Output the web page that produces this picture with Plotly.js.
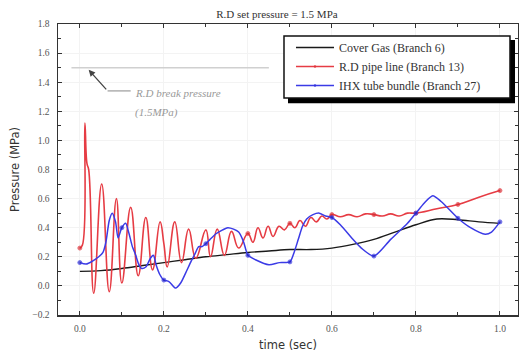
<!DOCTYPE html>
<html><head><meta charset="utf-8">
<script src="https://cdn.plot.ly/plotly-3.0.1.min.js"></script>
<style>html,body{margin:0;padding:0;background:#fff}#chart{width:519px;height:360px}</style>
</head><body><div id="chart"></div>
<script>
// Cover Gas (Branch 6)
const blackT = [0,0.05,0.1,0.15,0.2,0.25,0.3,0.35,0.4,0.45,0.5,0.55,0.6,0.65,0.7,0.75,0.8,0.85,0.9,0.95,1.0];
const blackV = [0.10,0.105,0.12,0.14,0.16,0.18,0.20,0.215,0.23,0.24,0.25,0.25,0.26,0.285,0.32,0.37,0.42,0.46,0.455,0.44,0.43];
// R.D pipe line (Branch 13)
const redT = [0,0.006,0.012,0.017,0.021,0.033,0.052,0.070,0.087,0.1,0.121,0.139,0.157,0.173,0.191,0.2,0.208,0.226,0.242,0.259,0.276,0.3,0.311,0.327,0.344,0.361,0.378,0.4,0.412,0.424,0.436,0.448,0.46,0.474,0.487,0.5,0.512,0.524,0.537,0.55,0.563,0.576,0.588,0.6,0.62,0.64,0.66,0.68,0.7,0.72,0.74,0.76,0.78,0.8,0.85,0.9,0.95,1.0];
const redV = [0.26,0.28,1.12,0.84,0.80,-0.05,0.70,-0.04,0.60,0.02,0.54,0.07,0.47,0.11,0.44,0.29,0.13,0.44,0.16,0.39,0.19,0.385,0.20,0.39,0.21,0.375,0.26,0.36,0.30,0.40,0.33,0.41,0.34,0.41,0.385,0.43,0.40,0.45,0.41,0.47,0.44,0.48,0.46,0.49,0.475,0.49,0.475,0.495,0.49,0.48,0.495,0.48,0.50,0.50,0.53,0.56,0.61,0.655];
const redMarkT = [0,0.4,0.5,0.6,0.7,0.8,0.9,1.0];
// IHX tube bundle (Branch 27)
const blueT = [0,0.015,0.03,0.045,0.055,0.062,0.07,0.077,0.085,0.091,0.1,0.109,0.117,0.125,0.132,0.14,0.147,0.157,0.168,0.175,0.182,0.19,0.2,0.212,0.228,0.24,0.252,0.265,0.274,0.283,0.291,0.3,0.31,0.325,0.34,0.352,0.366,0.378,0.39,0.395,0.4,0.418,0.45,0.475,0.5,0.51,0.52,0.53,0.54,0.555,0.57,0.585,0.6,0.62,0.65,0.67,0.7,0.74,0.78,0.8,0.82,0.84,0.86,0.9,0.93,0.965,0.98,1.0];
const blueV = [0.16,0.15,0.17,0.20,0.23,0.30,0.45,0.50,0.44,0.33,0.40,0.43,0.36,0.27,0.22,0.15,0.12,0.13,0.19,0.21,0.14,0.08,0.04,0.03,-0.015,0.02,0.09,0.17,0.22,0.27,0.27,0.29,0.32,0.36,0.385,0.40,0.39,0.37,0.30,0.25,0.21,0.18,0.145,0.16,0.165,0.23,0.32,0.41,0.46,0.49,0.50,0.48,0.47,0.42,0.32,0.26,0.205,0.32,0.43,0.50,0.57,0.62,0.58,0.465,0.40,0.355,0.37,0.44];
const blueMarkT = [0,0.1,0.2,0.3,0.4,0.5,0.6,0.7,0.8,0.9,1.0];

const seriesNames = ['Cover Gas (Branch 6)','R.D pipe line (Branch 13)','IHX tube bundle (Branch 27)'];
const breakPressure = 1.5;
const breakLineT = [-0.02, 0.45];
const chartTitle = 'R.D set pressure = 1.5 MPa';
const noteLines = ['R.D break pressure', '(1.5MPa)'];

const isIn = (t, list) => list.some(m => Math.abs(m - t) < 1e-9);
const markAt = (ts, list) => ts.map(t => isIn(t, list) ? 4 : 0);
const serif = 'Liberation Serif, Times New Roman, serif';

const traces = [
  {x: blackT, y: blackV, name: seriesNames[0], mode: 'lines', line: {color: '#1a1a1a', width: 1.4, shape: 'spline'}},
  {x: redT, y: redV, name: seriesNames[1], mode: 'lines+markers', line: {color: '#e63c44', width: 1.6, shape: 'spline', smoothing: 1.3}, marker: {color: '#d42a30', size: markAt(redT, redMarkT)}},
  {x: blueT, y: blueV, name: seriesNames[2], mode: 'lines+markers', line: {color: '#3b3be6', width: 1.5, shape: 'spline', smoothing: 0.7}, marker: {color: '#2020c0', size: markAt(blueT, blueMarkT)}}
];

const axisCommon = {
  showline: true, linecolor: '#333', linewidth: 1.5, mirror: 'ticks',
  ticks: 'inside', ticklen: 4, tickwidth: 1, tickcolor: '#333',
  showgrid: true, gridcolor: '#f3f3f3', zeroline: false,
  tickfont: {family: serif, size: 9.5, color: '#555'}
};

const layout = {
  width: 519, height: 360,
  margin: {l: 58, r: 1, t: 24, b: 45},
  paper_bgcolor: '#fff', plot_bgcolor: '#fff',
  title: {text: chartTitle, font: {family: serif, size: 11, color: '#333'}, x: 0.476, xref: 'paper', y: 0.972, yref: 'container', xanchor: 'center'},
  xaxis: Object.assign({}, axisCommon, {range: [-0.052, 1.043], tickvals: [0,0.2,0.4,0.6,0.8,1.0], ticktext: ['0.0','0.2','0.4','0.6','0.8','1.0'], minor: {dtick: 0.1, ticks: 'inside', ticklen: 3, tickcolor: '#333', showgrid: false}, ticklabelstandoff: 4,
    title: {text: 'time (sec)', font: {family: 'DejaVu Sans, sans-serif', size: 11.5, color: '#333'}, standoff: 8}}),
  yaxis: Object.assign({}, axisCommon, {range: [-0.2, 1.8], dtick: 0.2, tickformat: '.1f', minor: {dtick: 0.1, ticks: 'inside', ticklen: 3, tickcolor: '#333', showgrid: false}, ticklabelstandoff: 5,
    title: {text: 'Pressure (MPa)', font: {family: 'DejaVu Sans, sans-serif', size: 11.5, color: '#333'}, standoff: 10}}),
  showlegend: true,
  legend: {x: 0.5065, y: 0.969, xanchor: 'left', yanchor: 'top', bgcolor: 'rgba(0,0,0,0)', borderwidth: 0,
    font: {family: serif, size: 12, color: '#333'}, tracegroupgap: 0, itemwidth: 38},
  shapes: [
    {type: 'rect', xref: 'paper', yref: 'paper', x0: 0.5, x1: 0.9935, y0: 0.728, y1: 0.945, fillcolor: '#000', line: {width: 0}, layer: 'above'},
    {type: 'rect', xref: 'paper', yref: 'paper', x0: 0.4913, x1: 0.9826, y0: 0.7457, y1: 0.9588, fillcolor: '#fff', line: {color: '#111', width: 1.5}, layer: 'above'},
    {type: 'line', xref: 'x', yref: 'y', x0: breakLineT[0], x1: breakLineT[1], y0: breakPressure, y1: breakPressure, line: {color: '#d0d0d0', width: 1.5}},
    {type: 'line', xref: 'x', yref: 'y', x0: 0.066, x1: 0.121, y0: 1.34, y1: 1.34, line: {color: '#888', width: 1}}
  ],
  annotations: [
    {x: 0.021, y: 1.485, xref: 'x', yref: 'y', ax: 0.066, ay: 1.34, axref: 'x', ayref: 'y', text: '', showarrow: true, arrowhead: 2, arrowsize: 1, arrowwidth: 1.3, arrowcolor: '#444'},
    {x: 0.126, y: 1.326, xref: 'x', yref: 'y', text: noteLines[0], showarrow: false, xanchor: 'left', yanchor: 'middle', font: {family: serif, size: 11, color: '#999', style: 'italic'}},
    {x: 0.126, y: 1.189, xref: 'x', yref: 'y', text: noteLines[1], showarrow: false, xanchor: 'left', yanchor: 'middle', font: {family: serif, size: 11, color: '#999', style: 'italic'}}
  ]
};

Plotly.newPlot('chart', traces, layout, {displayModeBar: false, staticPlot: true});
</script>
</body></html>
